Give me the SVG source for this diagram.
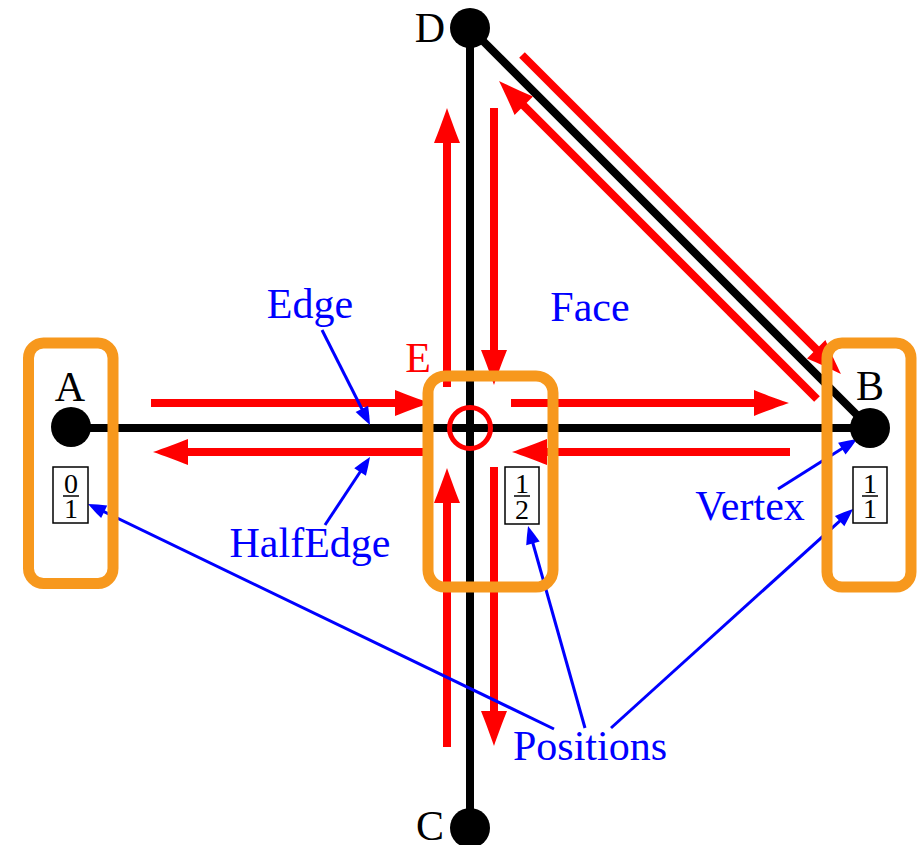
<svg xmlns="http://www.w3.org/2000/svg" width="921" height="845" viewBox="0 0 921 845">
<defs>
<marker id="redHead" markerUnits="userSpaceOnUse" orient="auto" refX="0" refY="0" markerWidth="80" markerHeight="80" viewBox="-40 -40 80 80" overflow="visible">
<path d="M25,0 C15,-3.4 0,-9 -10,-13 L-10,13 C0,9 15,3.4 25,0 Z" fill="#FF0000"/>
</marker>
<marker id="blueHead" markerUnits="userSpaceOnUse" orient="auto" refX="0" refY="0" markerWidth="40" markerHeight="40" viewBox="-20 -20 40 40" overflow="visible">
<path d="M12,0 C6,-2.5 0,-5 -6,-7 L-6,7 C0,5 6,2.5 12,0 Z" fill="#0000FF"/>
</marker>
</defs>
<style>
.edge{stroke:#000;stroke-width:8;fill:none}
.half{stroke:#FF0000;stroke-width:8;fill:none;marker-end:url(#redHead)}
.ptr{stroke:#0000FF;stroke-width:3;fill:none;marker-end:url(#blueHead)}
.grp{fill:none;stroke:#F7981D;stroke-width:11}
.lbl{font-family:"Liberation Serif","DejaVu Serif",serif;font-size:42px;text-anchor:middle}
.blue{fill:#0000FF}
.frac{font-family:"Liberation Serif","DejaVu Serif",serif;font-size:28px;text-anchor:middle;fill:#000}
.fbox{fill:#fff;stroke:#000;stroke-width:1.5}
</style>
<rect width="921" height="845" fill="#fff"/>

<g id="connectors">
<g id="edges">
<line class="edge" x1="70" y1="428" x2="870" y2="428"/>
<line class="edge" x1="470" y1="28" x2="470" y2="828"/>
<line class="edge" x1="470" y1="28" x2="870" y2="428"/>
</g>
<g id="halfedges">
<line class="half" x1="151" y1="403" x2="405" y2="403"/>
<line class="half" x1="425" y1="452" x2="178" y2="452"/>
<line class="half" x1="511" y1="403" x2="764" y2="403"/>
<line class="half" x1="790" y1="452" x2="537" y2="452"/>
<line class="half" x1="447" y1="387" x2="447" y2="133"/>
<line class="half" x1="494" y1="108" x2="494" y2="360"/>
<line class="half" x1="447" y1="747" x2="447" y2="493"/>
<line class="half" x1="494" y1="467" x2="494" y2="721"/>
<line class="half" x1="522" y1="55" x2="823.3" y2="356.3"/>
<line class="half" x1="817" y1="399" x2="516.7" y2="98.7"/>
</g>
<g id="pointers">
<line class="ptr" x1="322" y1="330" x2="364.6" y2="414.3"/>
<line class="ptr" x1="325" y1="525" x2="363.4" y2="467"/>
<line class="ptr" x1="778" y1="489" x2="846.9" y2="445.4"/>
<line class="ptr" x1="554" y1="729" x2="98.8" y2="509.2"/>
<line class="ptr" x1="585" y1="728" x2="531.3" y2="537.5"/>
<line class="ptr" x1="611" y1="728" x2="844.1" y2="517.1"/>
</g>
</g>

<g id="groupA"><rect class="grp" x="28.5" y="343" width="84.5" height="240.5" rx="15"/></g>
<g id="groupE"><rect class="grp" x="428" y="376" width="125" height="211" rx="17"/></g>
<g id="groupB"><rect class="grp" x="827" y="343" width="84" height="244" rx="15"/></g>

<g id="vertexA"><circle cx="71" cy="427" r="20" fill="#000"/><text class="lbl" x="70" y="401">A</text></g>
<g id="vertexB"><circle cx="870" cy="428" r="20" fill="#000"/><text class="lbl" x="870" y="400">B</text></g>
<g id="vertexD"><circle cx="470" cy="28" r="20" fill="#000"/><text class="lbl" x="430" y="42">D</text></g>
<g id="vertexC"><circle cx="470" cy="828" r="20" fill="#000"/><text class="lbl" x="430" y="840">C</text></g>
<g id="vertexE"><circle cx="470" cy="428" r="20.5" fill="none" stroke="#FF0000" stroke-width="5"/><text class="lbl" x="418" y="372" fill="#FF0000">E</text></g>

<g id="posA"><rect class="fbox" x="53" y="467" width="35" height="56"/><text class="frac" x="71" y="493">0</text><line x1="63" y1="496" x2="79" y2="496" stroke="#000" stroke-width="1.5"/><text class="frac" x="71" y="518">1</text></g>
<g id="posE"><rect class="fbox" x="505" y="467" width="34" height="57"/><text class="frac" x="522" y="493">1</text><line x1="514" y1="496" x2="530" y2="496" stroke="#000" stroke-width="1.5"/><text class="frac" x="522" y="519">2</text></g>
<g id="posB"><rect class="fbox" x="853" y="467" width="34" height="56"/><text class="frac" x="870" y="493">1</text><line x1="862" y1="496" x2="878" y2="496" stroke="#000" stroke-width="1.5"/><text class="frac" x="870" y="518">1</text></g>

<g id="labels">
<text class="lbl blue" x="310" y="318">Edge</text>
<text class="lbl blue" x="590" y="321">Face</text>
<text class="lbl blue" x="310" y="557">HalfEdge</text>
<text class="lbl blue" x="750" y="520">Vertex</text>
<text class="lbl blue" x="590" y="760">Positions</text>
</g>
</svg>
